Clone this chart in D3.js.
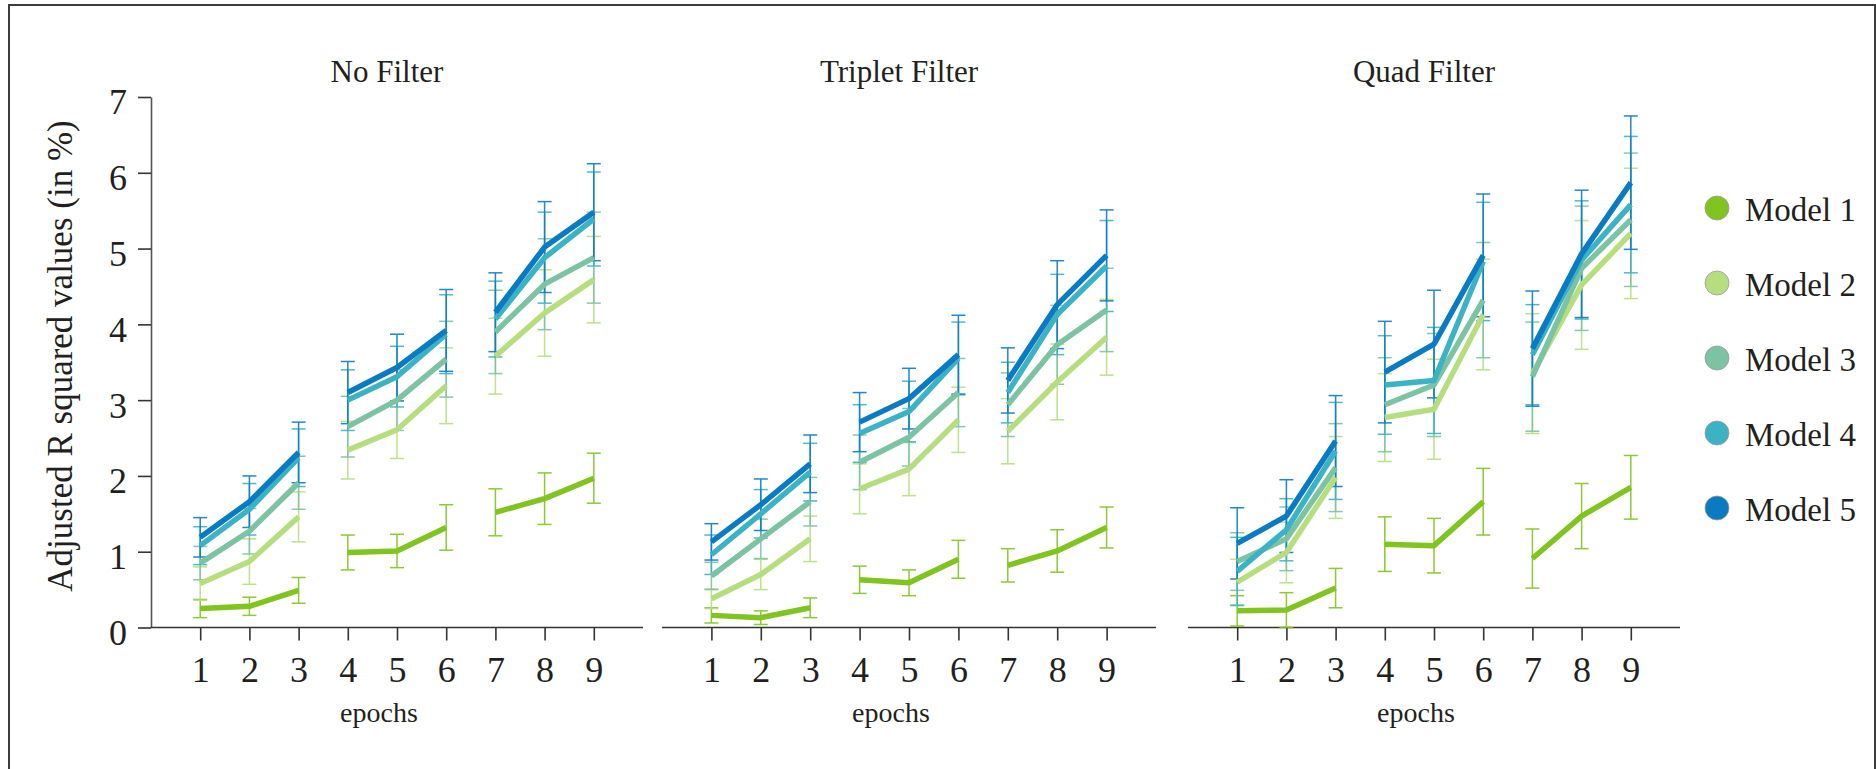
<!DOCTYPE html>
<html><head><meta charset="utf-8">
<script src="https://cdn.jsdelivr.net/npm/d3@7"></script>
<style>html,body{margin:0;padding:0;background:#fff;}svg{display:block;}</style>
</head><body>
<svg id="chart" width="1876" height="769"></svg>
<script>
const epochs = [1,2,3,4,5,6,7,8,9];
const models = ["Model 1","Model 2","Model 3","Model 4","Model 5"];
const filters = ["No Filter","Triplet Filter","Quad Filter"];
const yTicks = [0,1,2,3,4,5,6,7];

// No Filter
const noFilterMeans = [
  [0.25,0.28,0.49,0.99,1.01,1.32,1.52,1.70,1.97],
  [0.58,0.87,1.46,2.34,2.61,3.19,3.58,4.15,4.59],
  [0.85,1.27,1.91,2.65,3.00,3.54,3.90,4.53,4.88],
  [1.08,1.56,2.24,3.00,3.31,3.87,4.07,4.88,5.39],
  [1.19,1.66,2.31,3.10,3.43,3.92,4.16,5.02,5.48]
];
const noFilterErr = [
  [0.12,0.12,0.17,0.23,0.22,0.30,0.31,0.34,0.33],
  [0.22,0.30,0.33,0.38,0.38,0.50,0.50,0.57,0.57],
  [0.22,0.30,0.35,0.40,0.40,0.50,0.55,0.60,0.60],
  [0.25,0.34,0.38,0.40,0.40,0.52,0.50,0.60,0.62],
  [0.26,0.34,0.40,0.41,0.44,0.54,0.52,0.60,0.64]
];
// Triplet Filter
const tripletMeans = [
  [0.16,0.13,0.26,0.63,0.59,0.90,0.82,1.01,1.32],
  [0.38,0.70,1.17,1.83,2.09,2.74,2.59,3.24,3.83],
  [0.68,1.17,1.66,2.18,2.51,3.10,2.94,3.73,4.19],
  [0.96,1.50,2.05,2.56,2.85,3.55,3.10,4.13,4.77],
  [1.13,1.62,2.16,2.71,3.02,3.60,3.26,4.26,4.91]
];
const tripletErr = [
  [0.10,0.09,0.13,0.18,0.17,0.25,0.22,0.28,0.27],
  [0.13,0.20,0.30,0.33,0.35,0.43,0.43,0.50,0.50],
  [0.18,0.26,0.32,0.36,0.38,0.45,0.42,0.52,0.55],
  [0.26,0.32,0.38,0.38,0.40,0.48,0.40,0.53,0.60],
  [0.24,0.34,0.38,0.39,0.40,0.52,0.43,0.58,0.60]
];
// Quad Filter
const quadMeans = [
  [0.22,0.23,0.52,1.10,1.08,1.66,0.91,1.47,1.85],
  [0.60,0.99,1.98,2.77,2.88,4.13,3.35,4.52,5.20],
  [0.87,1.17,2.11,2.94,3.20,4.32,3.31,4.74,5.38],
  [0.74,1.29,2.33,3.20,3.26,4.83,3.60,4.85,5.58],
  [1.11,1.47,2.46,3.37,3.74,4.91,3.68,4.93,5.87]
];
const quadErr = [
  [0.20,0.23,0.26,0.36,0.36,0.44,0.39,0.43,0.42],
  [0.30,0.40,0.54,0.58,0.66,0.73,0.79,0.85,0.86],
  [0.38,0.42,0.58,0.62,0.68,0.76,0.72,0.82,0.88],
  [0.45,0.41,0.64,0.65,0.70,0.78,0.66,0.78,0.90],
  [0.47,0.48,0.60,0.67,0.71,0.81,0.76,0.84,0.88]
];

const panelMeans = [noFilterMeans, tripletMeans, quadMeans];
const panelErr = [noFilterErr, tripletErr, quadErr];
const colors = ["#80c41f","#b7de7e","#7bc3a2","#3cb2c5","#0a7bc2"];
const segments = [[0,3],[3,6],[6,9]];

const FONT = "'Liberation Serif','Times New Roman',serif";
const TXT = "#231f20";
const svg = d3.select("#chart");

// frame
svg.append("path").attr("d","M9,769V5H1875V769").attr("fill","none")
  .attr("stroke","#3c3c3c").attr("stroke-width",2);

const y = d3.scaleLinear().domain([0,7]).range([627.5,97]);
const panelRanges = [[151,643],[662,1156],[1188,1680]];

// y axis
const yAxisG = svg.append("g").attr("transform","translate(151,0)")
  .call(d3.axisLeft(y).tickValues(yTicks).tickSize(13).tickSizeOuter(0).tickPadding(11).tickFormat(d3.format("d")));
yAxisG.select(".domain").attr("stroke","#555").attr("stroke-width",1.6);
yAxisG.selectAll(".tick line").attr("stroke","#333").attr("stroke-width",1.6);
yAxisG.selectAll(".tick text").attr("font-family",FONT).attr("font-size",36).attr("fill",TXT).attr("dy","0.47em");

svg.append("text").attr("transform","translate(72,356) rotate(-90)")
  .attr("text-anchor","middle").attr("font-family",FONT).attr("font-size",35).attr("fill",TXT)
  .text("Adjusted R squared values (in %)");

filters.forEach((name, p) => {
  const x = d3.scaleLinear().domain([0,10]).range(panelRanges[p]);
  const g = svg.append("g");
  const cx = (x(1)+x(9))/2;

  // x axis
  g.append("line").attr("x1",panelRanges[p][0]).attr("x2",panelRanges[p][1])
    .attr("y1",y(0)).attr("y2",y(0)).attr("stroke","#333").attr("stroke-width",1.6);
  const xa = g.append("g").attr("transform",`translate(0,${y(0)})`)
    .call(d3.axisBottom(x).tickValues(epochs).tickSize(13).tickPadding(16).tickFormat(d3.format("d")));
  xa.select(".domain").remove();
  xa.selectAll(".tick line").attr("stroke","#333").attr("stroke-width",1.6);
  xa.selectAll(".tick text").attr("font-family",FONT).attr("font-size",36).attr("fill",TXT);

  g.append("text").attr("x",cx-10).attr("y",82).attr("text-anchor","middle")
    .attr("font-family",FONT).attr("font-size",31).attr("fill",TXT).text(name);
  g.append("text").attr("x",cx-18).attr("y",722).attr("text-anchor","middle")
    .attr("font-family",FONT).attr("font-size",28).attr("fill",TXT).text("epochs");

  const means = panelMeans[p], errs = panelErr[p];
  // error bars
  models.forEach((m, mi) => {
    const pts = epochs.map((e,i) => ({e, v: means[mi][i], s: errs[mi][i]}));
    const eg = g.append("g").attr("stroke",colors[mi]).attr("stroke-width",1.5).attr("opacity",0.9);
    pts.forEach(d => {
      const xx = x(d.e);
      eg.append("line").attr("x1",xx).attr("x2",xx).attr("y1",y(d.v-d.s)).attr("y2",y(d.v+d.s));
      eg.append("line").attr("x1",xx-7).attr("x2",xx+7).attr("y1",y(d.v-d.s)).attr("y2",y(d.v-d.s));
      eg.append("line").attr("x1",xx-7).attr("x2",xx+7).attr("y1",y(d.v+d.s)).attr("y2",y(d.v+d.s));
    });
  });
  // lines
  const line = d3.line().x(d => x(d.e)).y(d => y(d.v));
  models.forEach((m, mi) => {
    const pts = epochs.map((e,i) => ({e, v: means[mi][i]}));
    segments.forEach(([a,b]) => {
      g.append("path").datum(pts.slice(a,b)).attr("d",line).attr("fill","none")
        .attr("stroke",colors[mi]).attr("stroke-width",5.5).attr("stroke-linejoin","round");
    });
  });
});

// legend
const lg = svg.append("g");
models.forEach((m, i) => {
  const cy = 208 + i*75;
  lg.append("circle").attr("cx",1717).attr("cy",cy).attr("r",12)
    .attr("fill",colors[i]).attr("stroke","#9a9a9a").attr("stroke-width",0.8);
  lg.append("text").attr("x",1745).attr("y",cy+13).attr("font-family",FONT).attr("font-size",33)
    .attr("fill",TXT).text(m);
});
</script>
</body></html>
